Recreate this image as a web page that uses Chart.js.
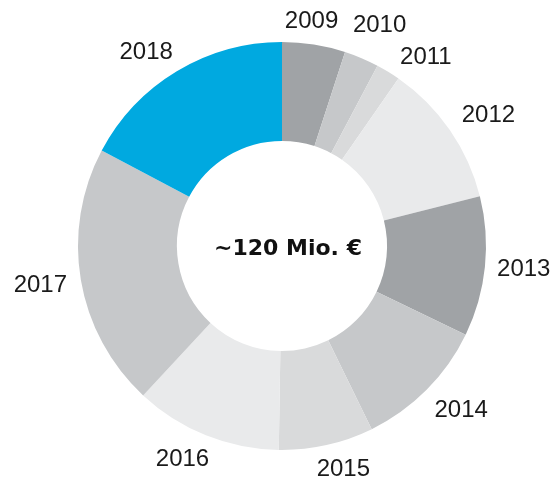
<!DOCTYPE html>
<html lang="de">
<head>
<meta charset="UTF-8">
<title>Doughnut</title>
<script src="https://cdn.jsdelivr.net/npm/chart.js@4/dist/chart.umd.min.js"></script>
<style>
  body { margin: 0; background: #fff; }
  #wrap { width: 554px; height: 482px; }
</style>
</head>
<body>
<div id="wrap"><canvas id="c"></canvas></div>
<script>
const years = ['2009', '2010', '2011', '2012', '2013', '2014', '2015', '2016', '2017', '2018'];
const amounts = [6, 3.3, 2.3, 13.7, 13.3, 12.7, 9, 14, 25, 20.7];
const colors = ['#a0a3a6', '#c6c8ca', '#d9dadb', '#e9eaeb', '#a0a3a6', '#c6c8ca', '#d9dadb', '#e9eaeb', '#c6c8ca', '#00a9e0'];
const centerText = '~120 Mio. €';

// small nudges for the year labels (px)
const nudge = [[-8, 12], [4, 0], [19, 16], [9, 6], [3, -1], [9, -5], [9, -11], [-10, -9], [-5, -1], [-12, 12]];

// year labels outside the ring + total in the middle
const labelPlugin = {
  id: 'outerLabels',
  afterDatasetsDraw(chart) {
    const ctx = chart.ctx;
    const arcs = chart.getDatasetMeta(0).data;
    ctx.save();
    ctx.fillStyle = '#1a1a1a';
    ctx.textAlign = 'center';
    ctx.textBaseline = 'middle';
    ctx.font = '24px "Liberation Sans", Arial, sans-serif';
    arcs.forEach((arc, i) => {
      const p = arc.getProps(['x', 'y', 'startAngle', 'endAngle', 'outerRadius'], true);
      const mid = (p.startAngle + p.endAngle) / 2;
      const r = p.outerRadius + 36;
      ctx.fillText(years[i], p.x + Math.cos(mid) * r + nudge[i][0], p.y + Math.sin(mid) * r + nudge[i][1]);
    });
    const a0 = arcs[0];
    ctx.font = 'bold 22px "DejaVu Sans", sans-serif';
    ctx.fillStyle = '#111';
    ctx.fillText(centerText, a0.x + 6, a0.y + 3);
    ctx.restore();
  }
};

new Chart(document.getElementById('c'), {
  type: 'doughnut',
  data: {
    labels: years,
    datasets: [{
      data: amounts,
      backgroundColor: colors,
      borderWidth: 0
    }]
  },
  options: {
    responsive: true,
    maintainAspectRatio: false,
    animation: false,
    cutout: '51.5%',
    layout: { padding: { left: 78, right: 68, top: 42, bottom: 32 } },
    plugins: {
      legend: { display: false },
      tooltip: { enabled: false }
    }
  },
  plugins: [labelPlugin]
});
</script>
</body>
</html>
